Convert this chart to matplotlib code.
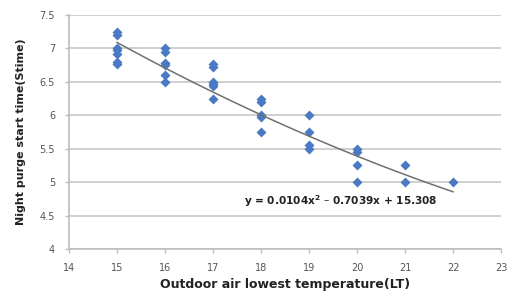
import numpy as np
import matplotlib
matplotlib.use('Agg')
import matplotlib.pyplot as plt

plt.rcParams['font.family'] = ['DejaVu Sans']

# outdoor air lowest temperature (LT)
lt = [15, 15, 15, 15, 15, 15, 15,
      16, 16, 16, 16, 16, 16,
      17, 17, 17, 17, 17, 17,
      18, 18, 18, 18, 18,
      19, 19, 19, 19,
      20, 20, 20, 20,
      21, 21,
      22]
# night purge start time (Stime)
stime = [7.25, 7.2, 7.0, 6.97, 6.92, 6.8, 6.77,
         7.0, 6.95, 6.78, 6.75, 6.6, 6.5,
         6.77, 6.72, 6.5, 6.47, 6.44, 6.25,
         6.25, 6.2, 6.0, 5.97, 5.75,
         6.0, 5.75, 5.55, 5.5,
         5.5, 5.45, 5.25, 5.0,
         5.25, 5.0,
         5.0]

coef = [0.0104, -0.7039, 15.308]
eq_text = 'y = 0.0104x$^\\mathbf{2}$ \u2013 0.7039x + 15.308'

fig = plt.figure(figsize=(5.09, 2.96), dpi=100)
ax = fig.add_axes([69/509, 47/296, 432/509, 234/296])

ax.scatter(lt, stime, marker='D', s=26, color='#4a7ac4', zorder=3, linewidths=0)

xx = np.linspace(15, 22, 100)
ax.plot(xx, np.polyval(coef, xx), color='#707070', lw=1.1, zorder=4)

ax.set_xlim(14, 23)
ax.set_ylim(4, 7.5)
ax.set_xticks(range(14, 24))
ax.set_yticks(np.arange(4, 7.51, 0.5))
ax.set_yticklabels(['4', '4.5', '5', '5.5', '6', '6.5', '7', '7.5'])
ax.yaxis.grid(True, color='#c8c8c8', lw=1.2)
ax.set_axisbelow(True)

for s in ['top', 'right']:
    ax.spines[s].set_visible(False)
for s in ['left', 'bottom']:
    ax.spines[s].set_color('#bdbdbd')
    ax.spines[s].set_linewidth(1.2)
ax.tick_params(axis='both', colors='#bdbdbd', length=3, width=1, labelsize=7,
               labelcolor='#555555')
ax.tick_params(axis='x', pad=7)
ax.tick_params(axis='y', pad=7)

ax.text(17.65, 4.72, eq_text, fontsize=7.6, fontweight='bold', color='#222222',
        va='center', ha='left')

ax.set_xlabel('Outdoor air lowest temperature(LT)', fontsize=9, fontweight='bold',
              color='#222222', labelpad=4)
ax.set_ylabel('Night purge start time(Stime)', fontsize=8, fontweight='bold',
              color='#222222', labelpad=10)

plt.savefig('out.png', dpi=100)
